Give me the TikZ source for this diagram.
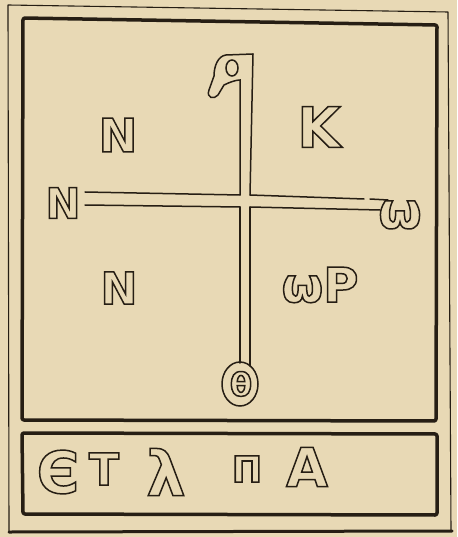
\documentclass[tikz,border=0pt]{standalone}
\usepackage{fontspec}
\usepackage{xcolor}
\usepackage{tikz}
\usetikzlibrary{calc, positioning}

\newfontfamily\glyphfont{DejaVu Sans}
\definecolor{paper}{RGB}{232,217,181}
\definecolor{ink}{RGB}{38,30,20}
\newcommand{\hollow}[1]{\special{pdf:literal 1 Tr 1.5 w}#1\special{pdf:literal 0 Tr}}

\tikzset{
    glyph/.style={inner sep=0pt, text=ink, font=\glyphfont\bfseries\fontsize{#1}{#1}\selectfont},
    glyph/.default=46,
    frame/.style={draw=ink, line width=3.5pt, line join=round, rounded corners=2pt},
    thinframe/.style={draw=ink, line width=1.1pt, line join=round},
    bar/.style={draw=ink, line width=1.5pt, line cap=round}
}

\begin{document}
\begin{tikzpicture}[x=1pt, y=-1pt]
    % Paper and size of the picture
    \useasboundingbox (0,0) rectangle (457,537);
    \fill[paper] (0,0) rectangle (457,537);

    % Outer border
    \draw[thinframe] (9,532) -- (8,5) -- (448,12) -- (451,531);
    \draw[ink, line width=3pt, line cap=round] (9,532) -- (452,531);

    % Upper panel and lower panel
    \draw[frame] (23,18) -- (437,25) -- (436,421) -- (22,420) -- cycle;
    \draw[frame] (22,433) -- (437,434) -- (437,515) -- (23,514) -- cycle;

    % Head of the cross (alpha hook)
    \draw[bar] (253,54) -- (226,55) .. controls (218,56) and (214,66) .. (214,76)
        -- (209,90) .. controls (206,98) and (214,100) .. (218,95)
        -- (224,85) .. controls (230,82) and (236,80) .. (240,80) -- (240,195);
    \draw[bar] (232,68) ellipse [x radius=6, y radius=8];
    \draw[bar] (253,54) -- (250,195);

    % Stem of the cross down to the ring
    \draw[bar] (240,207) -- (240,363);
    \draw[bar] (250,207) -- (250,366);
    \draw[bar] (240,384) ellipse [x radius=18, y radius=22];

    % Arms of the cross
    \draw[bar] (85,192) -- (240,195);
    \draw[bar] (85,205) -- (240,207);
    \draw[bar] (250,195) -- (364,199);
    \draw[bar] (370,199) -- (388,200);
    \draw[bar] (250,207) -- (380,210);

    % Letters at the ends of the cross
    \node[glyph=42] (lend) at (63,203) {\hollow{N}};
    \node[glyph=50] (rend) at (400,215) {\hollow{ω}};
    \node[glyph=32] (ring) at (241,384) {\hollow{θ}};

    % Letters in the four quarters
    \node[glyph=46] (nw) at (118,135) {\hollow{N}};
    \node[glyph=56] (ne) at (319,127) {\hollow{K}};
    \node[glyph=44] (sw) at (119,288) {\hollow{N}};
    \node[glyph=48] (se) at (320,285) {\hollow{ωΡ}};

    % Inscription in the lower panel
    \node[glyph=58] (l1) at (58,472) {\hollow{Є}};
    \node[glyph=44] (l2) at (104,469) {\hollow{Τ}};
    \node[glyph=62] (l3) at (166,472) {\hollow{λ}};
    \node[glyph=36] (l4) at (247,469) {\hollow{Π}};
    \node[glyph=54] (l5) at (307,467) {\hollow{Α}};
\end{tikzpicture}
\end{document}
